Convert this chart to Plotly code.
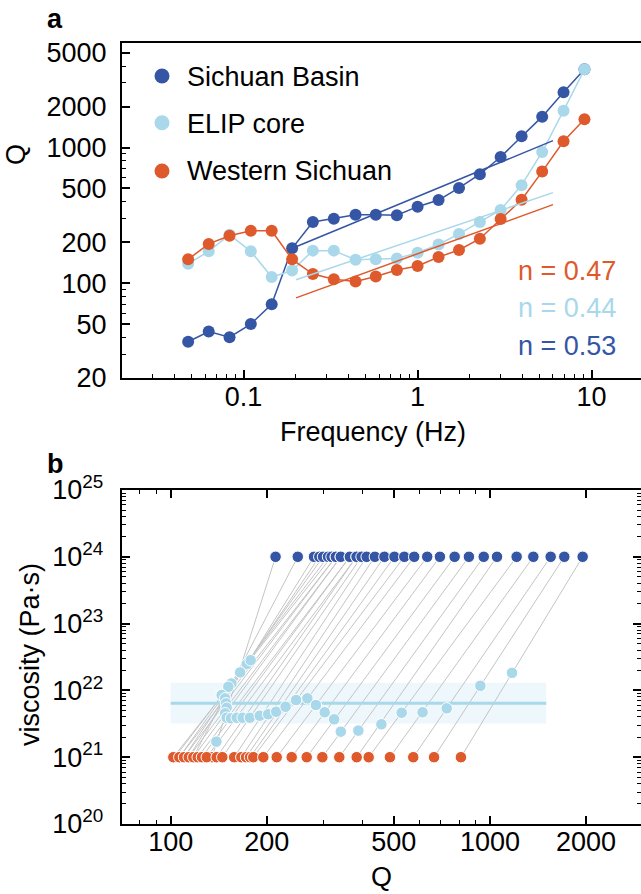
import math
import plotly.graph_objects as go

# ---------------- Panel a data ----------------
freq = [0.048, 0.063, 0.083, 0.11, 0.145, 0.19, 0.25, 0.33, 0.44, 0.575,
        0.76, 1.0, 1.32, 1.73, 2.28, 3.0, 3.96, 5.2, 6.9, 9.1]
Q_basin = [37, 44, 40, 50, 70, 181, 283, 299, 320, 320,
           317, 367, 411, 505, 637, 854, 1214, 1693, 2563, 3784]
Q_elip = [139, 172, 228, 172, 111, 124, 174, 174, 149, 150,
          152, 168, 193, 231, 283, 347, 529, 929, 1874, 3784]
Q_west = [150, 195, 224, 244, 244, 150, 117, 107, 103, 112,
          125, 134, 156, 176, 213, 298, 413, 666, 1115, 1619]
fit_f = [0.2, 6.0]
fit_basin = [186, 1127]
fit_elip = [106, 466]
fit_west = [78, 380]
n_labels = ["n = 0.47", "n = 0.44", "n = 0.53"]
legend_names = ["Sichuan Basin", "ELIP core", "Western Sichuan"]

# ---------------- Panel b data ----------------
Qb_west = [134.7, 117.7, 113.9, 110.1, 106.4, 103.1, 101.9, 106.4, 110.1, 113.9,
           117.7, 121.5, 125.3, 129.7, 139.3, 145.1, 158, 166.4, 172.2, 177.2,
           181.4, 195, 214.8, 239.3, 266.7, 298.5, 337.3, 382.4, 417, 486,
           575, 668, 811]
Qb_elip = [139, 155, 173, 178, 165, 151.5, 144.4, 148, 149, 149.7,
           148, 149.7, 154.5, 161, 168, 177, 190, 202, 214, 229,
           247, 268, 285, 303.6, 325, 341, 387, 457, 529, 615,
           732, 933, 1172]
eta_elip = [1.71e21, 1.27e22, 2.47e22, 2.83e22, 1.86e22, 1.13e22, 8.5e21, 7.6e21, 6.4e21, 5.5e21,
            4.54e21, 3.9e21, 3.82e21, 3.9e21, 3.9e21, 3.9e21, 4.18e21, 4.39e21, 4.79e21, 5.69e21,
            7.16e21, 7.6e21, 6.04e21, 4.7e21, 3.69e21, 2.41e21, 2.5e21, 3.11e21, 4.63e21, 4.7e21,
            5.39e21, 1.17e22, 1.83e22]
Qb_basin = [213, 250, 281, 292, 300, 311, 319, 329, 329, 341,
            341, 364, 364, 382, 382, 396, 411, 436, 467, 502,
            539, 579, 636, 697, 775, 859, 956, 1052, 1212, 1367,
            1549, 1709, 1951]
eta_west = 1e21
eta_basin = 1e24
band_Q = [100, 1500]
band_lo = 3.2e21
band_hi = 1.3e22
band_mean = 6.4e21

W, H = 641, 894
FONT = "Liberation Sans, Arial, Helvetica, sans-serif"
BLUE = "#3555A5"
LIGHT = "#A8D8EA"
ORANGE = "#DE5A2C"
GREY = "#C4C4C4"
FS = 27


def px(x):
    return x / W


def py(y):
    return 1 - y / H


fig = go.Figure()

# ---- panel a ----
for q, c in [(Q_basin, BLUE), (Q_elip, LIGHT), (Q_west, ORANGE)]:
    fig.add_trace(go.Scatter(x=freq, y=q, mode="lines+markers",
                             line=dict(color=c, width=1.5),
                             marker=dict(size=12, color=c),
                             showlegend=False, xaxis="x", yaxis="y"))
for q, c in [(fit_basin, BLUE), (fit_elip, LIGHT), (fit_west, ORANGE)]:
    fig.add_trace(go.Scatter(x=fit_f, y=q, mode="lines",
                             line=dict(color=c, width=1.5),
                             showlegend=False, xaxis="x", yaxis="y"))

# ---- panel b ----
fig.add_trace(go.Scatter(x=[band_Q[0], band_Q[1], band_Q[1], band_Q[0], band_Q[0]],
                         y=[band_lo, band_lo, band_hi, band_hi, band_lo],
                         mode="lines", fill="toself", fillcolor="rgba(168,216,234,0.2)",
                         line=dict(width=0), showlegend=False, xaxis="x2", yaxis="y2"))
lx, ly = [], []
for qw, qb in zip(Qb_west, Qb_basin):
    lx += [qw, qb, None]
    ly += [eta_west, eta_basin, None]
fig.add_trace(go.Scatter(x=lx, y=ly, mode="lines", line=dict(color=GREY, width=1),
                         showlegend=False, xaxis="x2", yaxis="y2"))
fig.add_trace(go.Scatter(x=band_Q, y=[band_mean, band_mean], mode="lines",
                         line=dict(color=LIGHT, width=3),
                         showlegend=False, xaxis="x2", yaxis="y2"))
mk = dict(size=11.5, line=dict(color="white", width=1))
fig.add_trace(go.Scatter(x=Qb_basin, y=[eta_basin] * len(Qb_basin), mode="markers",
                         marker=dict(color=BLUE, **mk), showlegend=False, xaxis="x2", yaxis="y2"))
fig.add_trace(go.Scatter(x=Qb_elip, y=eta_elip, mode="markers",
                         marker=dict(color=LIGHT, **mk), showlegend=False, xaxis="x2", yaxis="y2"))
fig.add_trace(go.Scatter(x=Qb_west, y=[eta_west] * len(Qb_west), mode="markers",
                         marker=dict(color=ORANGE, **mk), showlegend=False, xaxis="x2", yaxis="y2"))

axis_common = dict(type="log", showgrid=False, zeroline=False, showline=True,
                   linecolor="black", linewidth=2, ticks="inside", ticklen=8,
                   tickwidth=1.5, tickcolor="black", automargin=False,
                   tickfont=dict(family=FONT, size=FS, color="black"))

minor_a_x = [0.03, 0.04, 0.05, 0.06, 0.07, 0.08, 0.09, 0.2, 0.3, 0.4, 0.5, 0.6, 0.7,
             0.8, 0.9, 2, 3, 4, 5, 6, 7, 8, 9]
minor_a_y = [30, 40, 60, 70, 80, 90, 300, 400, 600, 700, 800, 900, 3000, 4000]
minor_b_x = [80, 90, 300, 400, 600, 700, 800, 900, 3000]
minor_b_y = [m * 10.0 ** e for e in range(20, 25) for m in range(2, 10)]

fig.update_layout(
    width=W, height=H, autosize=False,
    margin=dict(l=0, r=0, t=0, b=0, pad=0, autoexpand=False),
    paper_bgcolor="white", plot_bgcolor="white", showlegend=False,
    font=dict(family=FONT, size=FS, color="black"),
    xaxis=dict(axis_common, domain=[px(122), 1.0], anchor="y",
               range=[math.log10(0.02), 1.284], mirror=True,
               tickvals=[0.1, 1, 10], ticktext=["0.1", "1", "10"],
               ticklabelstandoff=-6,
               minor=dict(ticks="inside", ticklen=4, tickwidth=1.2, tickcolor="black",
                          tickvals=minor_a_x)),
    yaxis=dict(axis_common, domain=[py(378), py(43)], anchor="x",
               range=[math.log10(20), 3.772], mirror=False,
               tickvals=[20, 50, 100, 200, 500, 1000, 2000, 5000],
               ticktext=["20", "50", "100", "200", "500", "1000", "2000", "5000"],
               ticklabelstandoff=8,
               minor=dict(ticks="inside", ticklen=4, tickwidth=1.2, tickcolor="black",
                          tickvals=minor_a_y)),
    xaxis2=dict(axis_common, domain=[px(121.7), 1.0], anchor="y2",
                range=[1.8465, 3.473], mirror="allticks",
                tickvals=[100, 200, 500, 1000, 2000],
                ticktext=["100", "200", "500", "1000", "2000"],
                ticklabelstandoff=-7,
                minor=dict(ticks="inside", ticklen=4, tickwidth=1.2, tickcolor="black",
                           tickvals=minor_b_x)),
    yaxis2=dict(axis_common, domain=[py(824), py(490)], anchor="x2",
                range=[20, 25], mirror="allticks",
                tickvals=[1e20, 1e21, 1e22, 1e23, 1e24, 1e25],
                ticktext=["10<sup>%d</sup>" % e for e in range(20, 26)],
                ticklabelstandoff=11,
                minor=dict(ticks="inside", ticklen=4, tickwidth=1.2, tickcolor="black",
                           tickvals=minor_b_y)),
)

ann = []


def text(x, y, s, color="black", size=FS, xanchor="center", angle=0, bold=False):
    if bold:
        s = "<b>%s</b>" % s
    ann.append(dict(x=px(x), y=py(y), xref="paper", yref="paper", text=s,
                    showarrow=False, xanchor=xanchor, yanchor="middle",
                    textangle=angle, font=dict(family=FONT, size=size, color=color)))


text(45, 18.6, "a", xanchor="left", bold=True)
text(45, 463.6, "b", xanchor="left", bold=True)
text(373, 431.7, "Frequency (Hz)")
text(16, 155, "Q", angle=-90)
text(30, 655, "viscosity (Pa·s)", angle=-90)
text(381.7, 877, "Q")
for name, yy in zip(legend_names, [76.7, 124, 171]):
    text(185, yy, name, xanchor="left")
for lab, yy, c in zip(n_labels, [270.8, 307.5, 345.8], [ORANGE, LIGHT, BLUE]):
    text(618, yy, lab, color=c, xanchor="right")
fig.update_layout(annotations=ann)

shapes = []
for yy, c in zip([76, 122.7, 171], [BLUE, LIGHT, ORANGE]):
    r = 7.5
    shapes.append(dict(type="circle", xref="paper", yref="paper",
                       x0=px(162 - r), x1=px(162 + r), y0=py(yy + r), y1=py(yy - r),
                       fillcolor=c, line=dict(width=0)))
fig.update_layout(shapes=shapes)

fig.write_html("out.html", config={"displayModeBar": False},
               post_script="document.body.style.margin='0';document.body.style.overflow='hidden';")
